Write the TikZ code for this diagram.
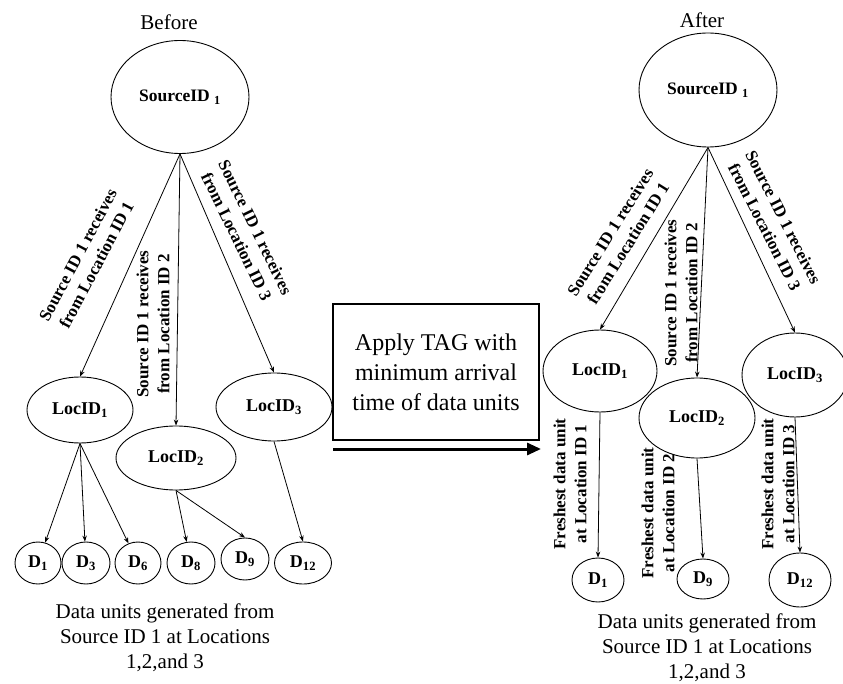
\documentclass[tikz,border=0pt]{standalone}
\usepackage{fontspec}
\setmainfont{Liberation Serif}
\usetikzlibrary{shapes.geometric,arrows.meta}
\begin{document}
\begin{tikzpicture}[x=1pt,y=-1pt,
  ell/.style={draw,ellipse,inner sep=0pt,line width=0.9pt,font=\bfseries\fontsize{18}{20}\selectfont},
  srcell/.style={ell,minimum width=138pt,minimum height=113pt,font=\bfseries\fontsize{17.5}{19}\selectfont},
  dnode/.style={ell,minimum height=42pt},
  conn/.style={line width=0.8pt,-{Stealth[length=6pt,width=4.5pt]}},
  elabel/.style={font=\bfseries\fontsize{17}{21}\selectfont,align=center,inner sep=0pt},
  captext/.style={font=\fontsize{21}{25}\selectfont,align=center,inner sep=0pt},
  ttl/.style={font=\fontsize{21}{25}\selectfont,inner sep=0pt}]
\useasboundingbox (0,0) rectangle (843,684);
\fill[white] (0,0) rectangle (843,684);

% ---------- Before ----------
\node[ttl] (before) at (169,22) {Before};
\node[srcell] (src1) at (180,97) {SourceID \textsubscript{1}};
\node[ell,minimum width=106pt,minimum height=66pt] (loc1) at (80,410) {LocID\textsubscript{1}};
\node[ell,minimum width=120pt,minimum height=64pt] (loc2) at (176,458) {LocID\textsubscript{2}};
\node[ell,minimum width=116pt,minimum height=68pt] (loc3) at (274,407) {LocID\textsubscript{3}};
\node[dnode,minimum width=46pt] (d1) at (38,563) {D\textsubscript{1}};
\node[dnode,minimum width=48pt] (d3) at (86,563) {D\textsubscript{3}};
\node[dnode,minimum width=46pt] (d6) at (138,563) {D\textsubscript{6}};
\node[dnode,minimum width=48pt] (d8) at (191,563) {D\textsubscript{8}};
\node[dnode,minimum width=48pt] (d9) at (245,559) {D\textsubscript{9}};
\node[dnode,minimum width=57pt] (d12) at (303,563) {D\textsubscript{12}};

\draw[conn] (src1.south) -- (loc1.north);
\draw[conn] (src1.south) -- (loc2.north);
\draw[conn] (src1.south) -- (loc3.north);
\draw[conn] (loc1.south) -- (d1);
\draw[conn] (loc1.south) -- (d3);
\draw[conn] (loc1.south) -- (d6);
\draw[conn] (loc2.south) -- (d8);
\draw[conn] (loc2.south) -- (d9.north);
\draw[conn] (loc3.south) -- (d12.north);

\node[elabel,rotate=62] (l1) at (87,260) {Source ID 1 receives\\from Location ID 1};
\node[elabel,rotate=90] (l2) at (153,324) {Source ID 1 receives\\from Location ID 2};
\node[elabel,rotate=-64] (l3) at (246,232) {Source ID 1 receives\\from Location ID 3};

\node[captext] (cap1) at (165,638) {Data units generated from\\Source ID 1 at Locations\\1,2,and 3};

% ---------- middle ----------
\node[draw,line width=2.6pt,minimum width=206pt,minimum height=136pt,inner sep=0pt,
      font=\fontsize{24}{30}\selectfont,align=center] (tag) at (436,372)
      {Apply TAG with\\minimum arrival\\time of data units};
\coordinate (arrS) at (333,449);
\coordinate (arrE) at (541,449);
\draw[line width=3pt,-{Triangle[length=14pt,width=12pt]}] (arrS) -- (arrE);

% ---------- After ----------
\node[ttl] (after) at (702,20) {After};
\node[srcell,minimum height=114pt] (src2) at (708,90) {SourceID \textsubscript{1}};
\node[ell,minimum width=114pt,minimum height=82pt] (rloc1) at (600,371) {LocID\textsubscript{1}};
\node[ell,minimum width=116pt,minimum height=80pt] (rloc2) at (697,418) {LocID\textsubscript{2}};
\node[ell,minimum width=106pt,minimum height=84pt] (rloc3) at (795,375) {LocID\textsubscript{3}};
\node[ell,minimum width=52pt,minimum height=44pt] (rd1) at (598,580) {D\textsubscript{1}};
\node[ell,minimum width=52pt,minimum height=40pt] (rd9) at (703,579) {D\textsubscript{9}};
\node[ell,minimum width=62pt,minimum height=54pt] (rd12) at (800,580) {D\textsubscript{12}};

\draw[conn] (src2.south) -- (rloc1.north);
\draw[conn] (src2.south) -- (rloc2.north);
\draw[conn] (src2.south) -- (rloc3.north);
\draw[conn] (rloc1.south) -- (rd1.north);
\draw[conn] (rloc2.south) -- (rd9.north);
\draw[conn] (rloc3.south) -- (rd12.north);

\node[elabel,rotate=58] (r1) at (619,238) {Source ID 1 receives\\from Location ID 1};
\node[elabel,rotate=90] (r2) at (681,293) {Source ID 1 receives\\from Location ID 2};
\node[elabel,rotate=-63] (r3) at (774,222) {Source ID 1 receives\\from Location ID 3};

\node[elabel,rotate=90] (f1) at (570,484) {Freshest data unit\\at Location ID 1};
\node[elabel,rotate=90] (f2) at (658,513) {Freshest data unit\\at Location ID 2};
\node[elabel,rotate=90] (f3) at (778,484) {Freshest data unit\\at Location ID 3};

\node[captext] (cap2) at (707,648) {Data units generated from\\Source ID 1 at Locations\\1,2,and 3};
\end{tikzpicture}
\end{document}
